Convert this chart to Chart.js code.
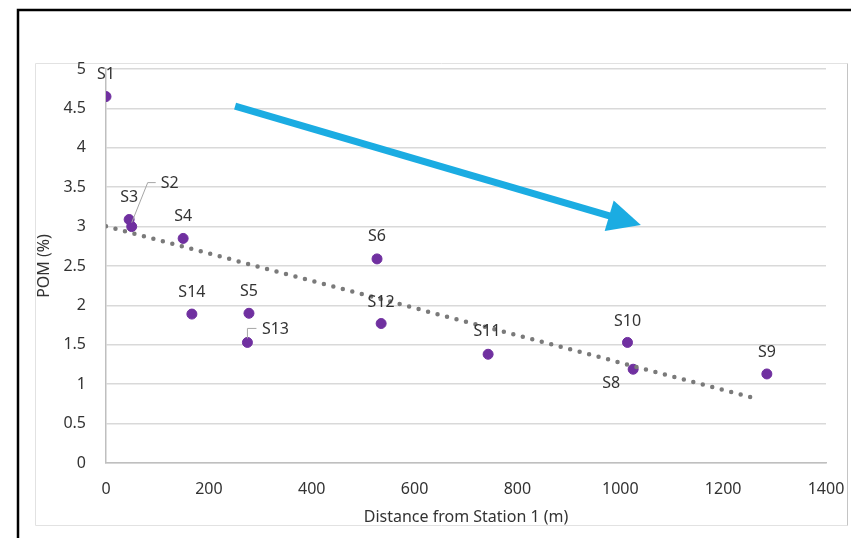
<!DOCTYPE html>
<html>
<head>
<meta charset="utf-8">
<script src="https://cdn.jsdelivr.net/npm/chart.js@4"></script>
<style>
  body { margin: 0; background: #fff; }
  canvas { display: block; }
</style>
</head>
<body>
<canvas id="myChart" width="851" height="538"></canvas>
<script>
// values
const stations = ['S1', 'S2', 'S3', 'S4', 'S5', 'S6', 'S8', 'S9', 'S10', 'S11', 'S12', 'S13', 'S14'];
const distances = [0, 50, 45, 150, 278, 527, 1025, 1285, 1014, 743, 535, 275, 167];
const pom = [4.65, 3.00, 3.09, 2.85, 1.90, 2.59, 1.19, 1.13, 1.53, 1.38, 1.77, 1.53, 1.89];

const trendX = [0, 1268];
const trendY = [3.005, 0.81];

const arrowX = [251, 1040];
const arrowY = [4.53, 3.02];

// label placement (px from the point to label centre)
const labelOffsets = {
    S1: [0, -22], S2: [38, -43], S3: [0, -22], S4: [0, -22], S5: [0, -22],
    S6: [0, -22], S8: [-22, 14], S9: [0, -22], S10: [0, -21], S11: [-1, -23],
    S12: [0, -21], S13: [28, -13], S14: [0, -22]
};

const textColor = '#333333';

const framePlugin = {
    id: 'frame',
    beforeDraw(chart) {
        const c = chart.ctx;
        c.save();
        c.fillStyle = '#fff';
        c.fillRect(0, 0, chart.width, chart.height);
        c.strokeStyle = '#e2e2e2';
        c.lineWidth = 1;
        c.beginPath();
        c.moveTo(35.5, 525.5);
        c.lineTo(35.5, 63.5);
        c.lineTo(847.5, 63.5);
        c.moveTo(35.5, 525.5);
        c.lineTo(847.5, 525.5);
        c.stroke();
        c.strokeStyle = '#c4c4c4';
        c.beginPath();
        c.moveTo(847.5, 63.5);
        c.lineTo(847.5, 525.5);
        c.stroke();
        c.strokeStyle = '#000';
        c.lineWidth = 2.5;
        c.beginPath();
        c.moveTo(18, 538);
        c.lineTo(18, 10);
        c.lineTo(851, 10);
        c.stroke();
        c.restore();
    }
};

const labelPlugin = {
    id: 'labels',
    afterDatasetsDraw(chart) {
        const c = chart.ctx;
        const xs = chart.scales.x;
        const ys = chart.scales.y;
        c.save();

        // leader lines
        c.strokeStyle = '#a6a6a6';
        c.lineWidth = 1;
        const p2 = [xs.getPixelForValue(distances[1]), ys.getPixelForValue(pom[1])];
        c.beginPath();
        c.moveTo(p2[0], p2[1] - 4);
        c.lineTo(p2[0] + 16, p2[1] - 44);
        c.lineTo(p2[0] + 24, p2[1] - 44);
        c.stroke();
        const p13 = [xs.getPixelForValue(distances[11]), ys.getPixelForValue(pom[11])];
        c.beginPath();
        c.moveTo(p13[0], p13[1] - 4);
        c.lineTo(p13[0], p13[1] - 14);
        c.lineTo(p13[0] + 9, p13[1] - 14);
        c.stroke();

        c.fillStyle = textColor;
        c.font = '16px "Noto Sans"';
        c.textAlign = 'center';
        c.textBaseline = 'middle';
        stations.forEach((s, i) => {
            const px = xs.getPixelForValue(distances[i]);
            const py = ys.getPixelForValue(pom[i]);
            const o = labelOffsets[s];
            c.fillText(s, px + o[0], py + o[1]);
        });

        // blue arrow
        const x0 = xs.getPixelForValue(arrowX[0]);
        const y0 = ys.getPixelForValue(arrowY[0]);
        const x1 = xs.getPixelForValue(arrowX[1]);
        const y1 = ys.getPixelForValue(arrowY[1]);
        const ang = Math.atan2(y1 - y0, x1 - x0);
        const headLen = 33;
        const headW = 16;
        const bx = x1 - headLen * Math.cos(ang);
        const by = y1 - headLen * Math.sin(ang);
        c.strokeStyle = '#1BACE2';
        c.fillStyle = '#1BACE2';
        c.lineWidth = 7;
        c.lineCap = 'butt';
        c.beginPath();
        c.moveTo(x0, y0);
        c.lineTo(bx + 2 * Math.cos(ang), by + 2 * Math.sin(ang));
        c.stroke();
        c.beginPath();
        c.moveTo(x1, y1);
        c.lineTo(bx + headW * Math.sin(ang), by - headW * Math.cos(ang));
        c.lineTo(bx - headW * Math.sin(ang), by + headW * Math.cos(ang));
        c.closePath();
        c.fill();
        c.restore();
    }
};

let ctx = document.getElementById('myChart').getContext('2d');

let myChart = new Chart(ctx, {
    type: 'scatter',
    data: {
        datasets: [{
                type: 'line',
                label: 'Trend',
                data: trendX.map((x, i) => ({ x: x, y: trendY[i] })),
                borderColor: '#7a7a7a',
                borderWidth: 4.5,
                borderDash: [0, 9.8],
                borderCapStyle: 'round',
                pointRadius: 0,
                fill: false,
            },
            {
                label: 'POM',
                data: distances.map((x, i) => ({ x: x, y: pom[i] })),
                backgroundColor: '#7030A0',
                borderColor: '#7030A0',
                pointRadius: 5,
                pointHoverRadius: 5,
            },
        ],
    },
    options: {
        responsive: false,
        animation: false,
        layout: {
            padding: { left: 30, right: 25, top: 69, bottom: 8 }
        },
        scales: {
            x: {
                type: 'linear',
                min: 0,
                max: 1400,
                afterFit: s => {
                    s.height = 67;
                    s.paddingLeft = 0;
                    s.paddingRight = 0;
                },
                grid: { display: false },
                border: { display: true, color: '#bfbfbf', width: 1.5 },
                ticks: {
                    stepSize: 200,
                    padding: 9,
                    color: textColor,
                    font: { family: 'Noto Sans', size: 16 },
                    maxRotation: 0,
                    callback: value => String(value),
                },
                title: {
                    display: true,
                    text: 'Distance from Station 1 (m)',
                    color: textColor,
                    font: { family: 'Noto Sans', size: 16 },
                    padding: { top: 0, bottom: 3 },
                }
            },
            y: {
                min: 0,
                max: 5,
                afterFit: s => {
                    s.width = 76;
                    s.paddingTop = 0;
                    s.paddingBottom = 0;
                },
                grid: { color: '#d9d9d9', lineWidth: 1.5, drawTicks: false },
                border: { display: true, color: '#bfbfbf', width: 1.5 },
                ticks: {
                    stepSize: 0.5,
                    padding: 20,
                    color: textColor,
                    font: { family: 'Noto Sans', size: 16 },
                    callback: value => String(value),
                },
                title: {
                    display: true,
                    text: 'POM (%)',
                    color: textColor,
                    font: { family: 'Noto Sans', size: 16 },
                    padding: { top: 5, bottom: 0 },
                }
            }
        },
        plugins: {
            legend: { display: false },
            tooltip: { enabled: false },
        },
    },
    plugins: [framePlugin, labelPlugin],
});
</script>
</body>
</html>
